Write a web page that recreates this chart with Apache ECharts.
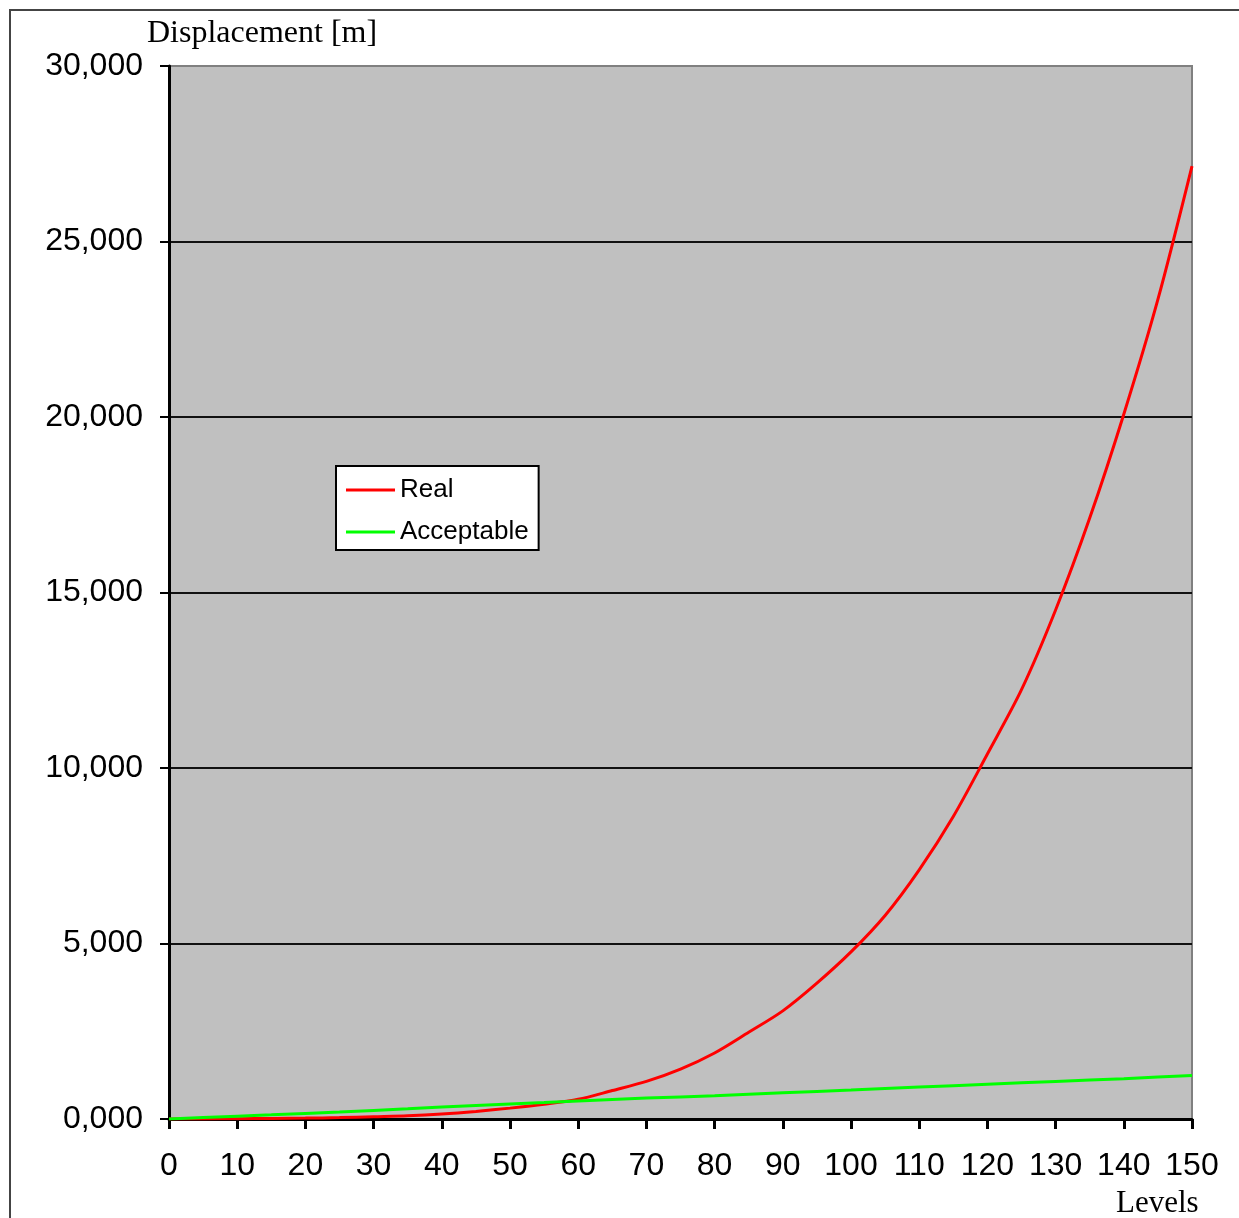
<!DOCTYPE html>
<html>
<head>
<meta charset="utf-8">
<title>Displacement vs Levels</title>
<script src="https://cdn.jsdelivr.net/npm/echarts@6/dist/echarts.min.js"></script>
<style>
  html, body { margin: 0; padding: 0; background: #ffffff; }
  #chart { width: 1239px; height: 1218px; }
</style>
</head>
<body>
<div id="chart"></div>
<script>
// Building levels (x axis)
const levels = [0, 5, 10, 15, 20, 25, 30, 35, 40, 45, 50, 55, 60, 65, 70, 75,
                80, 85, 90, 95, 100, 105, 110, 115, 120, 125, 130, 135, 140, 145, 150];

// Real lateral displacement at the top, metres
const realDisp = [0, 0, 0.010, 0.015, 0.025, 0.040, 0.065, 0.090, 0.140, 0.215,
                  0.310, 0.420, 0.560, 0.810, 1.070, 1.420, 1.880, 2.470, 3.080, 3.870,
                  4.760, 5.800, 7.100, 8.620, 10.400, 12.230, 14.500, 17.120, 20.080, 23.350, 27.150];

// Acceptable displacement limit, metres
const acceptDisp = [0, 0.040, 0.080, 0.118, 0.160, 0.200, 0.245, 0.290, 0.340, 0.385,
                    0.430, 0.470, 0.515, 0.555, 0.595, 0.630, 0.665, 0.705, 0.745, 0.785,
                    0.825, 0.870, 0.910, 0.950, 0.990, 1.030, 1.070, 1.110, 1.150, 1.195, 1.240];

const seriesNames = ['Real', 'Acceptable'];
const yTitle = 'Displacement [m]';
const xTitle = 'Levels';

const pairs = (ys) => levels.map((x, i) => [x, ys[i]]);

const sans = '"Liberation Sans", Arial, sans-serif';
const serif = '"Liberation Serif", "Times New Roman", serif';

const chart = echarts.init(document.getElementById('chart'), null, { renderer: 'canvas' });

chart.setOption({
  animation: false,
  backgroundColor: '#ffffff',
  grid: {
    left: 169, top: 66, width: 1023, height: 1053,
    show: true,
    backgroundColor: '#c0c0c0',
    borderColor: '#808080',
    borderWidth: 2
  },
  legend: {
    orient: 'vertical',
    left: 336, top: 466,
    data: seriesNames,
    icon: 'rect',
    itemWidth: 49, itemHeight: 3,
    itemGap: 16,
    padding: [11, 10, 5, 10],
    backgroundColor: '#ffffff',
    borderColor: '#000000',
    borderWidth: 2,
    textStyle: { fontFamily: sans, fontSize: 26, color: '#000' }
  },
  xAxis: {
    type: 'value',
    min: 0, max: 150, interval: 10,
    axisLine: { show: true, onZero: false, lineStyle: { color: '#000', width: 3 } },
    axisTick: { show: true, inside: false, length: 10, lineStyle: { color: '#000', width: 3 } },
    axisLabel: { margin: 31, fontFamily: sans, fontSize: 32, color: '#000' },
    splitLine: { show: false }
  },
  yAxis: {
    type: 'value',
    min: 0, max: 30, interval: 5,
    axisLine: { show: true, onZero: false, lineStyle: { color: '#000', width: 3 } },
    axisTick: { show: true, inside: false, length: 9, lineStyle: { color: '#000', width: 2 } },
    axisLabel: {
      margin: 26, fontFamily: sans, fontSize: 32, color: '#000',
      formatter: (v) => v.toFixed(3).replace('.', ',')
    },
    splitLine: {
      show: true,
      lineStyle: {
        color: ['#111', '#111', '#111', '#111', '#111', '#111', '#808080'],
        width: 2
      }
    }
  },
  graphic: [
    {
      type: 'rect',
      shape: { x: 10, y: 10, width: 1270, height: 1270 },
      style: { fill: 'none', stroke: '#444', lineWidth: 2 },
      silent: true, z: 10
    },
    {
      type: 'text',
      x: 147, y: 34,
      style: { text: yTitle, font: '32px ' + serif, fill: '#000', verticalAlign: 'middle' },
      z: 10
    },
    {
      type: 'text',
      x: 1116, y: 1204,
      style: { text: xTitle, font: '31px ' + serif, fill: '#000', verticalAlign: 'middle' },
      z: 10
    }
  ],
  series: [
    {
      name: seriesNames[0],
      type: 'line',
      data: pairs(realDisp),
      symbol: 'none',
      smooth: 0.3,
      color: '#ff0000',
      lineStyle: { color: '#ff0000', width: 3 },
      z: 3
    },
    {
      name: seriesNames[1],
      type: 'line',
      data: pairs(acceptDisp),
      symbol: 'none',
      color: '#00ff00',
      lineStyle: { color: '#00ff00', width: 3 },
      z: 4
    }
  ]
});
</script>
</body>
</html>
